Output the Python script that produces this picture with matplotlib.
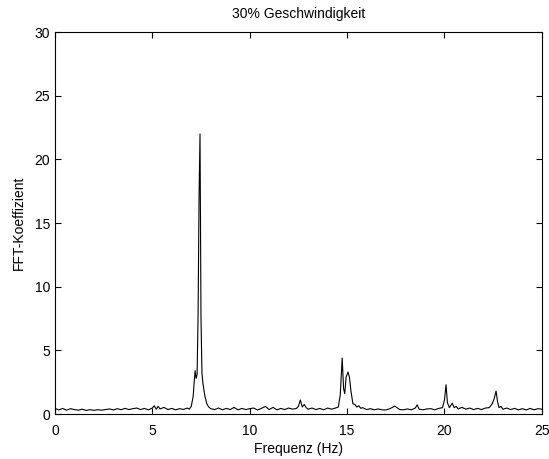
import matplotlib
matplotlib.use('Agg')
import matplotlib.pyplot as plt

# spectrum values
freq = [0.0, 0.2, 0.4, 0.6, 0.8, 1.0, 1.2, 1.4, 1.6, 1.8, 2.0, 2.2, 2.4, 2.6, 2.8,
        3.0, 3.2, 3.4, 3.6, 3.8, 4.0, 4.2, 4.4, 4.6, 4.8, 5.0, 5.1, 5.2, 5.3, 5.4,
        5.6, 5.8, 6.0, 6.2, 6.4, 6.6, 6.8, 6.9, 7.0, 7.1, 7.15, 7.2, 7.25, 7.3, 7.35,
        7.4, 7.45, 7.5, 7.55, 7.6, 7.7, 7.8, 7.9, 8.0, 8.2, 8.4, 8.6, 8.8, 9.0, 9.2,
        9.4, 9.6, 9.8, 10.0, 10.2, 10.4, 10.6, 10.8, 11.0, 11.2, 11.4, 11.6, 11.8, 12.0,
        12.2, 12.4, 12.5, 12.6, 12.7, 12.8, 12.9, 13.0, 13.2, 13.4, 13.6, 13.8, 14.0,
        14.2, 14.4, 14.55, 14.65, 14.75, 14.82, 14.88, 14.95, 15.05, 15.12, 15.2, 15.3,
        15.4, 15.5, 15.6, 15.7, 15.8, 16.0, 16.2, 16.4, 16.6, 16.8, 17.0, 17.2, 17.45,
        17.7, 17.9, 18.1, 18.3, 18.5, 18.6, 18.7, 18.9, 19.1, 19.3, 19.5, 19.7, 19.9,
        20.0, 20.08, 20.15, 20.25, 20.4, 20.5, 20.6, 20.7, 20.9, 21.1, 21.3, 21.5, 21.7,
        21.9, 22.1, 22.3, 22.45, 22.55, 22.65, 22.72, 22.8, 22.9, 23.0, 23.2, 23.4, 23.6,
        23.8, 24.0, 24.2, 24.4, 24.6, 24.8, 25.0]
coef = [0.45, 0.32, 0.44, 0.3, 0.42, 0.35, 0.3, 0.38, 0.28, 0.34, 0.29, 0.34, 0.3, 0.35, 0.4,
        0.32, 0.42, 0.34, 0.44, 0.35, 0.42, 0.47, 0.35, 0.44, 0.33, 0.47, 0.65, 0.38, 0.6, 0.4,
        0.52, 0.35, 0.44, 0.33, 0.42, 0.36, 0.47, 0.38, 0.6, 1.4, 2.5, 3.4, 2.8, 3.1, 7.6,
        17.0, 22.0, 7.6, 3.2, 2.4, 1.4, 0.8, 0.55, 0.42, 0.35, 0.47, 0.33, 0.44, 0.35, 0.52,
        0.33, 0.44, 0.35, 0.42, 0.47, 0.32, 0.44, 0.6, 0.35, 0.52, 0.33, 0.44, 0.35, 0.47,
        0.38, 0.44, 0.6, 1.1, 0.55, 0.75, 0.5, 0.38, 0.47, 0.35, 0.44, 0.33, 0.47,
        0.38, 0.47, 0.55, 1.5, 4.4, 2.0, 1.6, 2.9, 3.3, 2.9, 1.8, 0.8,
        0.75, 0.55, 0.65, 0.45, 0.5, 0.35, 0.42, 0.33, 0.4, 0.33, 0.32, 0.42, 0.62,
        0.35, 0.33, 0.4, 0.33, 0.47, 0.72, 0.38, 0.33, 0.4, 0.42, 0.33, 0.44, 0.5,
        1.1, 2.3, 0.9, 0.5, 0.85, 0.5, 0.6, 0.4, 0.52, 0.38, 0.47, 0.35, 0.44,
        0.35, 0.47, 0.5, 0.8, 1.2, 1.8, 1.0, 0.5, 0.6, 0.38, 0.47, 0.35, 0.44,
        0.33, 0.42, 0.32, 0.44, 0.33, 0.42, 0.38]

xticks = [0, 5, 10, 15, 20, 25]
yticks = [0, 5, 10, 15, 20, 25, 30]

plt.rcParams['font.family'] = ['Liberation Sans', 'DejaVu Sans']
plt.rcParams['font.size'] = 10

fig = plt.figure(figsize=(5.49, 4.59), dpi=100)
ax = fig.add_axes([0.100, 0.098, 0.887, 0.832])
ax.plot(freq, coef, color='black', lw=0.8)
ax.set_xlim(0, 25)
ax.set_ylim(0, 30)
ax.set_xticks(xticks)
ax.set_yticks(yticks)
ax.tick_params(direction='in', top=True, right=True, length=4, width=0.8, labelsize=10)
ax.tick_params(axis='x', pad=7)
for s in ax.spines.values():
    s.set_linewidth(0.8)
ax.set_title('30% Geschwindigkeit', fontsize=10, pad=10)
ax.set_xlabel('Frequenz (Hz)', fontsize=10, labelpad=3)
ax.set_ylabel('FFT-Koeffizient', fontsize=10, labelpad=6)

fig.savefig('out.png', dpi=100)
